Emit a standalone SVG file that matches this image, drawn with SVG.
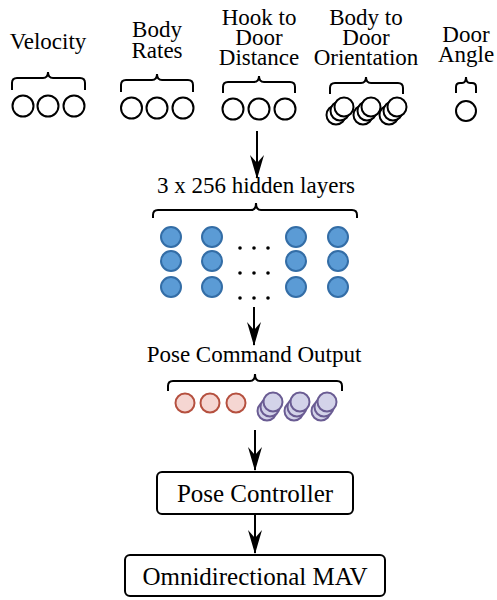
<svg xmlns="http://www.w3.org/2000/svg" width="497" height="600" viewBox="0 0 497 600">
<style>
text{font-family:"Liberation Serif","Times New Roman",serif;fill:#000;text-anchor:middle}
.lbl{font-size:23px}
.box{font-size:25px}
.brace{fill:none;stroke:#000;stroke-width:2}
.in{fill:#fff;stroke:#000;stroke-width:2}
.hid{fill:#5b9bd5;stroke:#336da6;stroke-width:2}
.red{fill:#f5d6d2;stroke:#b5503f;stroke-width:2}
.pur{fill:#d3d3e9;stroke:#6a5c93;stroke-width:2}
.conn{stroke:#000;stroke-width:2;fill:none}
.rect{fill:#fff;stroke:#000;stroke-width:2}
</style>
<defs>
<marker id="ah" viewBox="0 0 24 14" refX="23" refY="7" markerWidth="24" markerHeight="14" markerUnits="userSpaceOnUse" orient="auto">
<path d="M0,0 L24,7 L0,14 L8,7 z" fill="#000"/>
</marker>
</defs>

<g id="velocity">
<text class="lbl" x="48" y="49">Velocity</text>
<path class="brace" d="M12,90 L12,83 Q12,78 17,78 L43,78 Q48,78 48,72 Q48,78 53,78 L80,78 Q85,78 85,83 L85,90"/>
<circle class="in" cx="23" cy="106" r="10.5"/>
<circle class="in" cx="48" cy="106" r="10.5"/>
<circle class="in" cx="74" cy="106" r="10.5"/>
</g>

<g id="body-rates">
<text class="lbl" x="157" y="37">Body</text>
<text class="lbl" x="157" y="58">Rates</text>
<path class="brace" d="M121,92 L121,85 Q121,80 126,80 L152,80 Q157,80 157,74 Q157,80 162,80 L188,80 Q193,80 193,85 L193,92"/>
<circle class="in" cx="131.5" cy="108" r="10.5"/>
<circle class="in" cx="157" cy="108" r="10.5"/>
<circle class="in" cx="183" cy="108" r="10.5"/>
</g>

<g id="hook-distance">
<text class="lbl" x="259" y="25">Hook to</text>
<text class="lbl" x="259" y="45">Door</text>
<text class="lbl" x="259" y="65">Distance</text>
<path class="brace" d="M223,93 L223,87 Q223,82 228,82 L254,82 Q259,82 259,76 Q259,82 264,82 L290,82 Q295,82 295,87 L295,93"/>
<circle class="in" cx="233" cy="109" r="10.5"/>
<circle class="in" cx="259" cy="109" r="10.5"/>
<circle class="in" cx="285" cy="109" r="10.5"/>
</g>

<g id="body-orientation">
<text class="lbl" x="366" y="25">Body to</text>
<text class="lbl" x="366" y="45">Door</text>
<text class="lbl" x="366" y="65">Orientation</text>
<path class="brace" d="M330,94 L330,88 Q330,83 335,83 L361,83 Q366,83 366,77 Q366,83 371,83 L398,83 Q403,83 403,88 L403,94"/>
<circle class="in" cx="336" cy="115" r="9.5"/>
<circle class="in" cx="340" cy="111" r="9.5"/>
<circle class="in" cx="344" cy="107" r="9.5"/>
<circle class="in" cx="363" cy="115" r="9.5"/>
<circle class="in" cx="367" cy="111" r="9.5"/>
<circle class="in" cx="371" cy="107" r="9.5"/>
<circle class="in" cx="389" cy="115" r="9.5"/>
<circle class="in" cx="393" cy="111" r="9.5"/>
<circle class="in" cx="397" cy="107" r="9.5"/>
</g>

<g id="door-angle">
<text class="lbl" x="466" y="42">Door</text>
<text class="lbl" x="466" y="62">Angle</text>
<path class="brace" d="M456,93 L456,87 Q456,83 460,83 L462,83 Q466,83 466,77 Q466,83 470,83 L472,83 Q476,83 476,87 L476,93"/>
<circle class="in" cx="466" cy="111" r="10"/>
</g>

<g id="hidden-layers">
<text class="lbl" x="256" y="193">3 x 256 hidden layers</text>
<path class="brace" d="M153,218 L153,215 Q153,210 158,210 L251,210 Q256,210 256,203 Q256,210 261,210 L352,210 Q357,210 357,215 L357,218"/>
<g class="hid">
<circle cx="171" cy="237" r="10"/><circle cx="171" cy="261" r="10"/><circle cx="171" cy="287" r="10"/>
<circle cx="212" cy="237" r="10"/><circle cx="212" cy="261" r="10"/><circle cx="212" cy="287" r="10"/>
<circle cx="296" cy="237" r="10"/><circle cx="296" cy="261" r="10"/><circle cx="296" cy="287" r="10"/>
<circle cx="338" cy="237" r="10"/><circle cx="338" cy="261" r="10"/><circle cx="338" cy="287" r="10"/>
</g>
<g fill="#000">
<circle cx="240" cy="248" r="1.8"/><circle cx="254" cy="248" r="1.8"/><circle cx="268" cy="248" r="1.8"/>
<circle cx="240" cy="273" r="1.8"/><circle cx="254" cy="273" r="1.8"/><circle cx="268" cy="273" r="1.8"/>
<circle cx="240" cy="298" r="1.8"/><circle cx="254" cy="298" r="1.8"/><circle cx="268" cy="298" r="1.8"/>
</g>
</g>

<g id="pose-output">
<text class="lbl" x="254" y="362">Pose Command Output</text>
<path class="brace" d="M168,391 L168,386 Q168,381 173,381 L250,381 Q255,381 255,374 Q255,381 260,381 L337,381 Q342,381 342,386 L342,391"/>
<circle class="red" cx="185" cy="403" r="9.5"/>
<circle class="red" cx="210" cy="403" r="9.5"/>
<circle class="red" cx="236" cy="403" r="9.5"/>
<circle class="pur" cx="267" cy="411" r="9.5"/>
<circle class="pur" cx="270" cy="407" r="9.5"/>
<circle class="pur" cx="273" cy="402" r="9.5"/>
<circle class="pur" cx="294" cy="411" r="9.5"/>
<circle class="pur" cx="297" cy="407" r="9.5"/>
<circle class="pur" cx="300" cy="402" r="9.5"/>
<circle class="pur" cx="321" cy="411" r="9.5"/>
<circle class="pur" cx="324" cy="407" r="9.5"/>
<circle class="pur" cx="327" cy="402" r="9.5"/>
</g>

<g id="pose-controller">
<rect class="rect" x="157" y="472" width="196" height="42" rx="5"/>
<text class="box" x="255" y="502">Pose Controller</text>
</g>

<g id="mav">
<rect class="rect" x="125" y="555" width="260" height="41" rx="5"/>
<text class="box" x="255" y="585">Omnidirectional MAV</text>
</g>

<g id="connectors">
<line class="conn" x1="257" y1="131" x2="257" y2="178" marker-end="url(#ah)"/>
<line class="conn" x1="254" y1="307" x2="254" y2="345" marker-end="url(#ah)"/>
<line class="conn" x1="255" y1="430" x2="255" y2="470" marker-end="url(#ah)"/>
<line class="conn" x1="255" y1="514" x2="255" y2="553" marker-end="url(#ah)"/>
</g>
</svg>
